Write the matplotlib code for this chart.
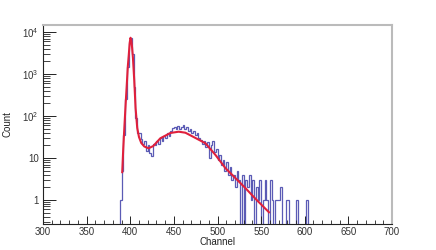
import numpy as np
import matplotlib
matplotlib.use("Agg")
import matplotlib.pyplot as plt
from matplotlib.ticker import FixedLocator, NullFormatter, FuncFormatter, MultipleLocator

plt.rcParams['font.family'] = ['Liberation Sans', 'DejaVu Sans']
plt.rcParams['mathtext.fontset'] = 'custom'
plt.rcParams['mathtext.rm'] = 'Liberation Sans'
plt.rcParams['mathtext.it'] = 'Liberation Sans'

# Histogram: 2-channel bins starting at channel 388
bin_start = 388
bin_width = 2
counts = [
    1, 5, 35, 250, 1500, 5500, 7400, 3000, 500, 90,      # 388-406
    40, 40, 28, 22, 25, 15, 20, 13, 11, 22,              # 408-426
    20, 25, 22, 30, 26, 33, 30, 40, 33, 45,              # 428-446
    52, 55, 48, 58, 50, 56, 62, 48, 55, 45,              # 448-466
    50, 40, 45, 36, 40, 30, 27, 22, 26, 18,              # 468-486
    24, 10, 20, 26, 14, 16, 9, 12, 7, 9,                 # 488-506
    5, 8, 4, 6, 3, 4, 2, 5, 3, 0,                        # 508-526
    4, 0, 3, 2, 4, 1, 3, 0, 2, 1,                        # 528-546
    3, 0, 1, 3, 1, 0, 3, 1, 0, 1,                        # 548-566
    1, 1, 2, 0, 0, 1, 1, 0, 0, 0,                        # 568-586
    0, 1, 0, 0, 0, 0, 0, 1,                              # 588-602
]

# Fit curve (channel, count)
fit_channel = [390.8, 392.0, 393.4, 394.7, 396.0, 397.2, 398.3, 399.4, 400.3,
               401.2, 402.1, 403.1, 404.6, 406.1, 408.0, 410.0, 412.6, 416.1,
               421.0, 426.4, 434.5, 446.0, 455.5, 463.2, 474.7, 486.2, 497.7,
               509.2, 520.7, 532.2, 543.7, 559.0]
fit_count = [4.6, 17, 61, 190, 547, 1500, 2830, 5600, 7310,
             6400, 4300, 2400, 700, 155, 52, 31.6, 22.8, 18.8,
             17.0, 19.3, 29.5, 39.4, 42.3, 40.0, 30.0, 22.4, 11.8,
             5.7, 3.3, 1.9, 1.06, 0.51]

x_label = "Channel"
y_label = "Count"
x_ticks = [300, 350, 400, 450, 500, 550, 600, 650, 700]

counts_arr = np.array(counts, dtype=float)
edges = bin_start + bin_width * np.arange(len(counts_arr) + 1)
floor = 1e-3
plot_vals = np.where(counts_arr > 0, counts_arr, floor)

fig = plt.figure(figsize=(4.36, 2.5), dpi=100)
ax = fig.add_axes([43/436, 26/250, (392-43)/436, (224-25)/250])

ax.stairs(plot_vals, edges, baseline=floor, color='#5b5bb5', linewidth=0.9)
ax.plot(fit_channel, fit_count, color='#e0203c', linewidth=1.5)

ax.set_yscale('log')
ax.set_xlim(300, 700)
ax.set_ylim(0.268, 14700)

ax.xaxis.set_major_locator(FixedLocator(x_ticks))
ax.xaxis.set_minor_locator(MultipleLocator(10))
ax.set_xticklabels([str(t) for t in x_ticks])

ax.yaxis.set_major_locator(FixedLocator([1, 10, 100, 1000, 10000]))
minors = [m * 10.0**e for e in range(-1, 5) for m in range(2, 10)]
ax.yaxis.set_minor_locator(FixedLocator(minors))
ax.yaxis.set_minor_formatter(NullFormatter())

def yfmt(v, pos):
    e = int(round(np.log10(v)))
    if e == 0:
        return "1"
    if e == 1:
        return "10"
    return r"$10^{%d}$" % e
ax.yaxis.set_major_formatter(FuncFormatter(yfmt))

ax.tick_params(axis='both', which='major', direction='in', labelsize=7,
               colors='#222222', labelcolor='#333333')
ax.tick_params(axis='x', which='major', length=6, width=0.7, pad=2)
ax.tick_params(axis='x', which='minor', direction='in', length=3, width=0.6, color='#222222')
ax.tick_params(axis='y', which='major', length=9, width=0.7, pad=3)
ax.tick_params(axis='y', which='minor', direction='in', length=5, width=0.6, color='#222222')

for s in ['top', 'right']:
    ax.spines[s].set_color('#bbbbbb')
    ax.spines[s].set_linewidth(1.5)
for s in ['left', 'bottom']:
    ax.spines[s].set_color('#222222')
    ax.spines[s].set_linewidth(0.8)

ax.set_xlabel(x_label, fontsize=7, labelpad=0, color='#222222')
ax.set_ylabel(y_label, fontsize=7, labelpad=7, color='#222222')

fig.savefig("out.png", dpi=100)
